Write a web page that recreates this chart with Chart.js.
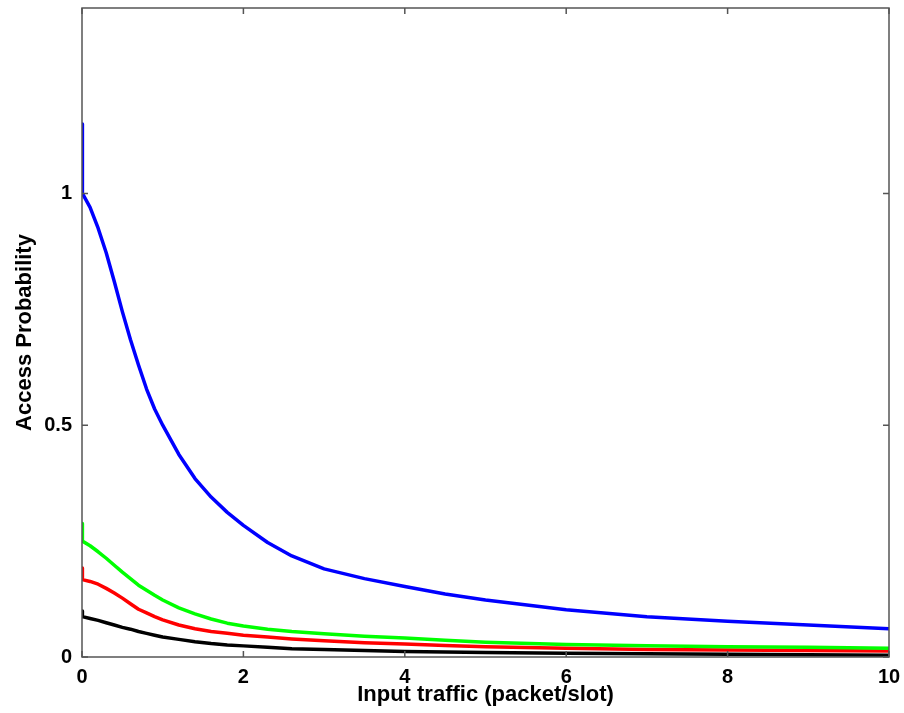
<!DOCTYPE html>
<html>
<head>
<meta charset="utf-8">
<script src="https://cdn.jsdelivr.net/npm/chart.js@4.4.0/dist/chart.umd.min.js"></script>
<style>
  html, body { margin: 0; padding: 0; background: #fff; }
  #wrap { width: 904px; height: 713px; position: relative; }
</style>
</head>
<body>
<div id="wrap"><canvas id="myChart"></canvas></div>
<script>
// input traffic (packet/slot)
const trafficLoad = [0, 0.005, 0.1, 0.2, 0.3, 0.4, 0.5, 0.6, 0.7, 0.8, 0.9, 1.0,
    1.2, 1.4, 1.6, 1.8, 2.0, 2.3, 2.6, 3.0, 3.5, 4.0, 4.5, 5.0, 6.0, 7.0, 8.0, 9.0, 10.0];

// access probability per curve
const blueCurve  = [1.15, 1.0, 0.97, 0.925, 0.872, 0.81, 0.745, 0.685, 0.63, 0.578, 0.535, 0.50,
    0.437, 0.385, 0.345, 0.312, 0.284, 0.247, 0.218, 0.19, 0.169, 0.152, 0.136, 0.123, 0.102, 0.087, 0.077, 0.069, 0.061];
const greenCurve = [0.288, 0.25, 0.24, 0.227, 0.213, 0.198, 0.183, 0.169, 0.155, 0.144, 0.133, 0.123,
    0.106, 0.093, 0.082, 0.073, 0.067, 0.06, 0.055, 0.05, 0.045, 0.041, 0.036, 0.032, 0.027, 0.024, 0.022, 0.021, 0.019];
const redCurve   = [0.192, 0.167, 0.163, 0.157, 0.148, 0.138, 0.127, 0.115, 0.103, 0.095, 0.087, 0.080,
    0.069, 0.061, 0.055, 0.051, 0.047, 0.043, 0.039, 0.035, 0.031, 0.028, 0.025, 0.022, 0.019, 0.016, 0.015, 0.014, 0.013];
const blackCurve = [0.099, 0.087, 0.083, 0.079, 0.074, 0.069, 0.064, 0.060, 0.055, 0.051, 0.047, 0.043,
    0.038, 0.033, 0.029, 0.026, 0.024, 0.021, 0.018, 0.016, 0.014, 0.012, 0.011, 0.0095, 0.008, 0.007, 0.006, 0.005, 0.004];

const yTicks = [0, 0.5, 1];

function toPoints(values) {
    return values.map((v, i) => ({x: trafficLoad[i], y: v}));
}

// frame box + inward tick marks like the matlab axes
const frameTicks = {
    id: 'frameTicks',
    afterDraw(chart) {
        const {ctx, chartArea: a, scales} = chart;
        const len = 6;
        ctx.save();
        ctx.strokeStyle = '#555';
        ctx.lineWidth = 1.5;
        ctx.strokeRect(a.left, a.top, a.right - a.left, a.bottom - a.top);
        ctx.beginPath();
        scales.x.ticks.forEach(t => {
            const px = scales.x.getPixelForValue(t.value);
            ctx.moveTo(px, a.bottom); ctx.lineTo(px, a.bottom - len);
            ctx.moveTo(px, a.top); ctx.lineTo(px, a.top + len);
        });
        scales.y.ticks.forEach(t => {
            const py = scales.y.getPixelForValue(t.value);
            ctx.moveTo(a.left, py); ctx.lineTo(a.left + len, py);
            ctx.moveTo(a.right, py); ctx.lineTo(a.right - len, py);
        });
        ctx.stroke();
        ctx.restore();
    }
};

const ctx = document.getElementById('myChart').getContext('2d');
const family = '"Liberation Sans", Arial, sans-serif';
const tickFont = {family: family, weight: 'bold', size: 20};
const titleFont = {family: family, weight: 'bold', size: 22};

const chart = new Chart(ctx, {
    type: 'line',
    data: {
        datasets: [
            {data: toPoints(blueCurve), borderColor: '#0000ff'},
            {data: toPoints(greenCurve), borderColor: '#00ff00'},
            {data: toPoints(redCurve), borderColor: '#ff0000'},
            {data: toPoints(blackCurve), borderColor: '#000000'}
        ]
    },
    options: {
        responsive: true,
        maintainAspectRatio: false,
        animation: false,
        datasets: {
            line: {borderWidth: 3.5, pointRadius: 0, tension: 0, borderJoinStyle: 'round', fill: false}
        },
        layout: {padding: {top: 8, right: 15, left: 0, bottom: 0}},
        scales: {
            x: {
                type: 'linear',
                min: 0,
                max: 10,
                grid: {display: false, drawTicks: false},
                border: {display: false},
                ticks: {stepSize: 2, color: '#000', font: tickFont, padding: 8},
                title: {display: true, text: 'Input traffic (packet/slot)', color: '#000', font: titleFont, padding: {top: 0, bottom: 5}},
                afterFit: (scale) => {
                    scale.height = 56;
                    scale.paddingLeft = 0;
                    scale.paddingRight = 0;
                }
            },
            y: {
                min: 0,
                max: 1.4,
                grid: {display: false, drawTicks: false},
                border: {display: false},
                afterBuildTicks: (scale) => { scale.ticks = yTicks.map(v => ({value: v})); },
                ticks: {color: '#000', font: tickFont, padding: 10, callback: (v) => String(v)},
                title: {display: true, text: 'Access Probability', color: '#000', font: titleFont, padding: {top: 12, bottom: 0}},
                afterFit: (scale) => {
                    scale.width = 82;
                    scale.paddingTop = 0;
                    scale.paddingBottom = 0;
                }
            }
        },
        plugins: {
            legend: {display: false},
            tooltip: {enabled: false}
        }
    },
    plugins: [frameTicks]
});
</script>
</body>
</html>
